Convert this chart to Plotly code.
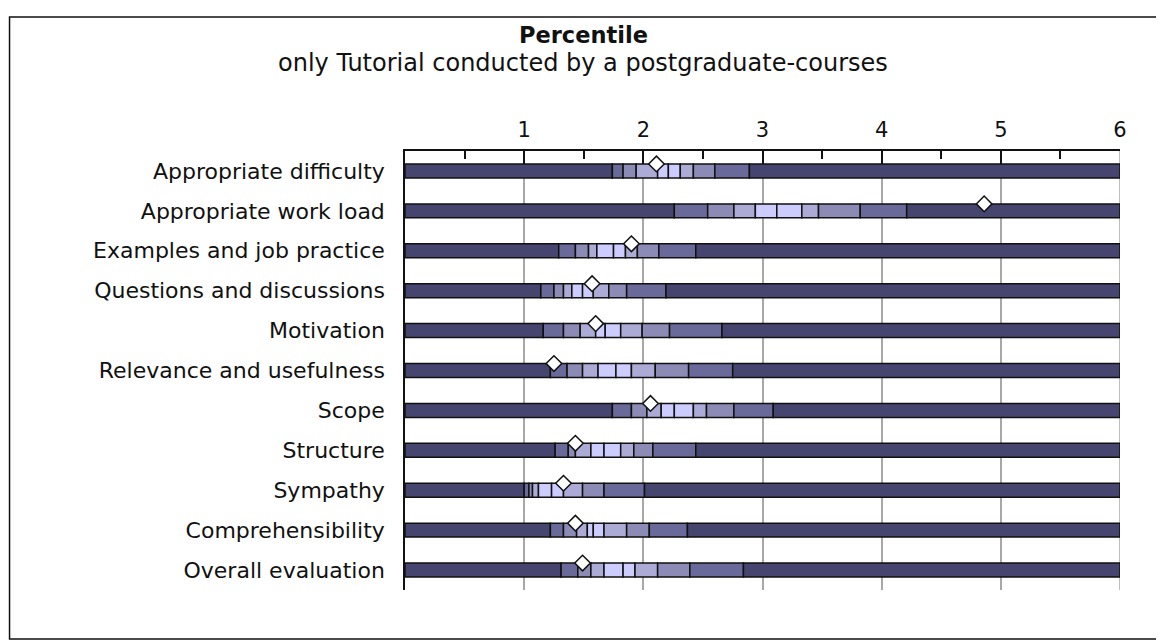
import plotly.graph_objects as go

# items, top to bottom
categories = [
    "Appropriate difficulty", "Appropriate work load", "Examples and job practice",
    "Questions and discussions", "Motivation", "Relevance and usefulness", "Scope",
    "Structure", "Sympathy", "Comprehensibility", "Overall evaluation",
]

# percentile boundaries
p10 = [1.74, 2.26, 1.29, 1.14, 1.16, 1.22, 1.74, 1.26, 1.00, 1.22, 1.31]
p20 = [1.83, 2.54, 1.43, 1.25, 1.33, 1.36, 1.90, 1.37, 1.04, 1.33, 1.45]
p30 = [1.94, 2.76, 1.54, 1.33, 1.47, 1.49, 2.03, 1.43, 1.07, 1.44, 1.56]
p40 = [2.12, 2.94, 1.61, 1.40, 1.60, 1.62, 2.15, 1.56, 1.12, 1.53, 1.67]
p50 = [2.21, 3.12, 1.75, 1.49, 1.68, 1.77, 2.26, 1.67, 1.23, 1.58, 1.83]
p60 = [2.31, 3.33, 1.85, 1.58, 1.81, 1.90, 2.42, 1.81, 1.33, 1.67, 1.93]
p70 = [2.42, 3.47, 1.95, 1.71, 1.99, 2.10, 2.53, 1.92, 1.49, 1.86, 2.12]
p80 = [2.60, 3.82, 2.13, 1.86, 2.22, 2.38, 2.76, 2.08, 1.67, 2.05, 2.39]
p90 = [2.89, 4.21, 2.44, 2.19, 2.66, 2.75, 3.09, 2.44, 2.01, 2.37, 2.84]
mean = [2.11, 4.86, 1.90, 1.57, 1.60, 1.25, 2.06, 1.43, 1.33, 1.43, 1.49]

scale_min, scale_max = 0, 6
x_ticks = [1, 2, 3, 4, 5, 6]

DARK = "#45456f"
C1 = "#69699a"
C2 = "#8b8bb6"
C3 = "#ababd6"
C4 = "#ccccff"
GRID = "#a8a8a8"
seg_colors = [DARK, C1, C2, C3, C4, C4, C3, C2, C1, DARK]

FONT = "DejaVu Sans, Verdana, sans-serif"

n = len(categories)
rows = list(range(n))
bounds = [[scale_min] * n, p10, p20, p30, p40, p50, p60, p70, p80, p90, [scale_max] * n]

fig = go.Figure()
for k in range(10):
    lo, hi = bounds[k], bounds[k + 1]
    fig.add_trace(go.Bar(
        y=rows, x=[h - l for l, h in zip(lo, hi)], base=lo,
        orientation="h", width=0.35,
        marker=dict(color=seg_colors[k], line=dict(color="#111111", width=1.5)),
        showlegend=False, hoverinfo="skip",
    ))

# mean markers sit on the upper edge of each bar
fig.add_trace(go.Scatter(
    x=mean, y=[r - 0.175 for r in rows], mode="markers",
    marker=dict(symbol="diamond", size=12, color="white",
                line=dict(color="#111111", width=1.5)),
    showlegend=False,
))

# page body has an 8px margin, so the figure is 8px smaller than the window
fig.update_layout(
    width=1156, height=633,
    paper_bgcolor="white", plot_bgcolor="white",
    barmode="overlay",
    margin=dict(l=397, r=44, t=143, b=51),
    font=dict(family=FONT, size=21, color="#111111"),
    xaxis=dict(
        range=[scale_min, scale_max], side="top",
        tickvals=x_ticks, ticks="inside", ticklen=13, tickwidth=1.5, tickcolor="#111111",
        minor=dict(dtick=0.5, ticks="inside", ticklen=8, tickwidth=1.5, tickcolor="#111111", showgrid=False),
        showgrid=True, gridcolor=GRID, gridwidth=1.5,
        showline=True, linecolor="#111111", linewidth=1.5,
        zeroline=False, ticklabelstandoff=4,
    ),
    yaxis=dict(
        range=[n - 0.5, -0.5],
        tickvals=rows, ticktext=categories,
        tickfont=dict(size=22),
        showgrid=False, zeroline=False,
        showline=True, linecolor="#111111", linewidth=1.5,
        ticks="", ticklabelstandoff=14,
    ),
    annotations=[
        dict(text="<b>Percentile</b>", xref="paper", yref="paper",
             xanchor="center", yanchor="middle",
             x=0.249, y=1.264, showarrow=False, font=dict(size=22.5)),
        dict(text="only Tutorial conducted by a postgraduate-courses", xref="paper", yref="paper",
             xanchor="center", yanchor="middle",
             x=0.249, y=1.2005, showarrow=False, font=dict(size=24)),
    ],
    shapes=[
        dict(type="rect", xref="paper", yref="paper",
             x0=-0.5531, x1=1.2, y0=-0.1116, y1=1.3052,
             line=dict(color="#111111", width=1.5), layer="below"),
        # grid line at the right end of the scale
        dict(type="line", xref="x", yref="paper", x0=scale_max, x1=scale_max, y0=0, y1=1,
             line=dict(color=GRID, width=1.5), layer="below"),
    ],
)

fig.write_html("out.html")
